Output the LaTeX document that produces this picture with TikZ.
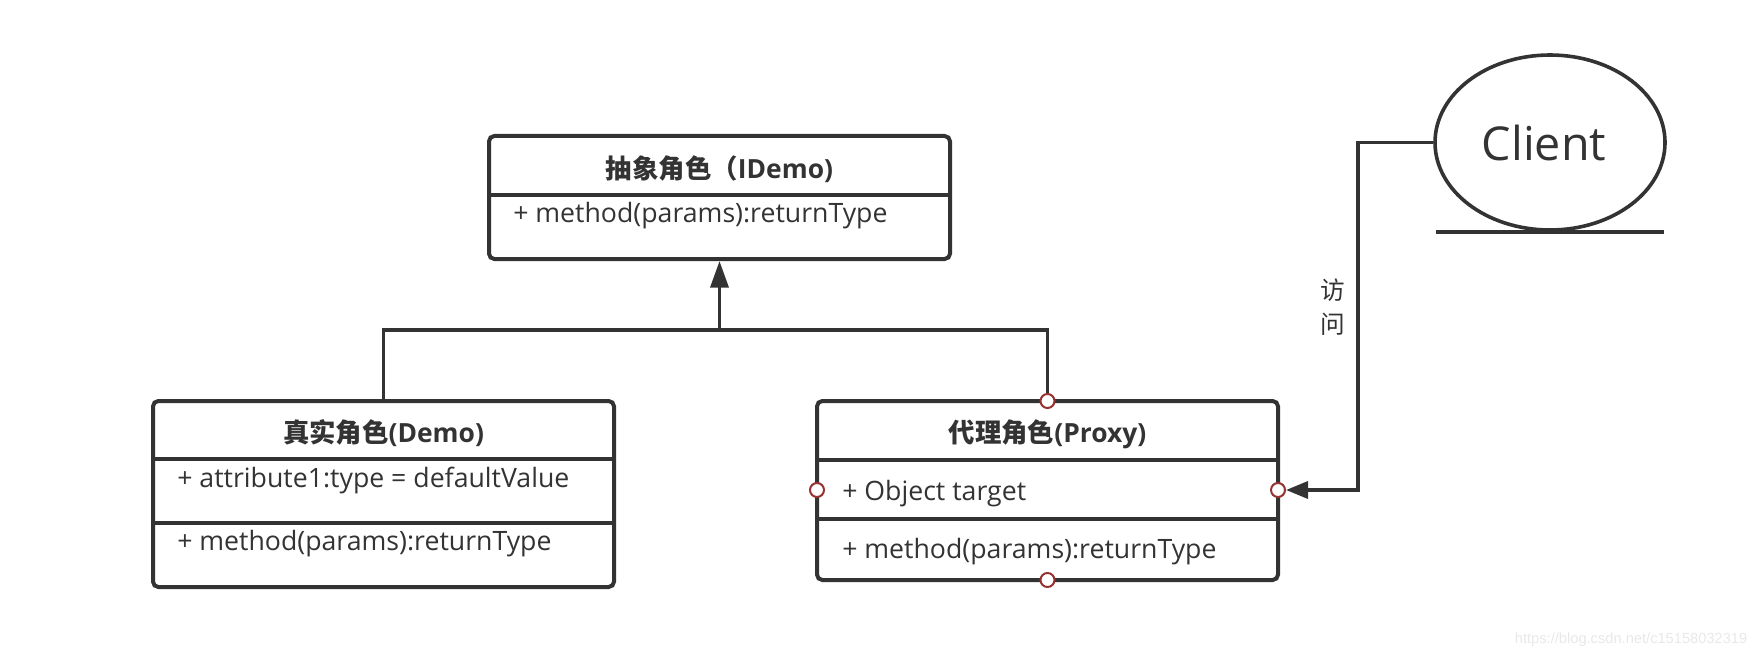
\documentclass[tikz,border=0pt]{standalone}
\usepackage{fontspec}
\setmainfont{Open Sans}
\newfontfamily\cjk{Noto Sans CJK SC}
\newfontfamily\arialfont{Liberation Sans}
\usetikzlibrary{arrows.meta,shapes.geometric}
\definecolor{ink}{HTML}{333333}
\definecolor{portred}{HTML}{963232}

\begin{document}
\begin{tikzpicture}[
    x=0.75pt, y=-0.75pt,
    box/.style={%
      draw=ink,
      rectangle,
      rounded corners=4pt,
      line width=3pt,
      inner sep=0pt,
    },
    head/.style={text=ink, font=\bfseries\fontsize{19.8}{22}\selectfont, anchor=base, inner sep=0pt},
    item/.style={text=ink, font=\fontsize{20}{22}\selectfont, anchor=base west, inner sep=0pt},
    port/.style={draw=portred, fill=white, circle, line width=1.5pt, minimum size=10.5pt, inner sep=0pt},
    link/.style={draw=ink, line width=2.7pt},
  ]
    \useasboundingbox (0,0) rectangle (1762,656);

    % interface
    \node [box, minimum width=345.75pt, minimum height=92.25pt] (idemo) at (719.5,197.5) {};
    \draw [link] (489,195) -- (950,195);
    \node [head] (idemoT) at (719.5,178) {{\cjk 抽象角色（}IDemo)};
    \node [item] (idemoM) at (513,222) {+ method(params):returnType};

    % real subject
    \node [box, minimum width=345.75pt, minimum height=139.5pt] (demo) at (383.5,494) {};
    \draw [link] (153,459) -- (614,459);
    \draw [link] (153,523) -- (614,523);
    \node [head] (demoT) at (383.5,442) {{\cjk 真实角色}(Demo)};
    \node [item] (demoA) at (177,487) {+ attribute1:type = defaultValue};
    \node [item] (demoM) at (177,550) {+ method(params):returnType};

    % proxy
    \node [box, minimum width=345.75pt, minimum height=134.25pt] (proxy) at (1047.5,490.5) {};
    \draw [link] (817,460) -- (1278,460);
    \draw [link] (817,519) -- (1278,519);
    \node [head] (proxyT) at (1047.5,442) {{\cjk 代理角色}(Proxy)};
    \node [item] (proxyA) at (842,500) {+ Object target};
    \node [item] (proxyM) at (842,558) {+ method(params):returnType};

    % client
    \node [draw=ink, ellipse, line width=2.7pt, minimum width=172.5pt, minimum height=131.25pt] (client) at (1550,142.5) {};
    \node [text=ink, font=\fontsize{35}{40}\selectfont, anchor=base] (clientT) at (1544,161) {Client};
    \draw [link] (1436,232) -- (1664,232);

    % ports
    \node [port] (pt) at (1047.5,401) {};
    \node [port] (pl) at (817,490) {};
    \node [port] (pr) at (1278,490) {};
    \node [port] (pb) at (1047.5,580) {};

    % links
    \coordinate (join) at (719.5,330);
    \coordinate (turn) at (1358,490);
    \draw [link] (demo.north) |- (join) -| (pt);
    \draw [link, -{Triangle[length=20pt,width=13.5pt]}] (join) -- (idemo.south);
    \draw [link, -{Triangle[length=16.5pt,width=12.75pt]}] (client.west) -| (turn) -- (pr);
    \node [text=ink, align=center, font={\cjk\fontsize{18.5}{25.5}\selectfont}] (visit) at (1333,307) {访\\问};

    \node [anchor=base east, text=black!9, font={\arialfont\fontsize{11}{13}\selectfont}] (wm) at (1752,643) {https://blog.csdn.net/c15158032319};
\end{tikzpicture}
\end{document}
